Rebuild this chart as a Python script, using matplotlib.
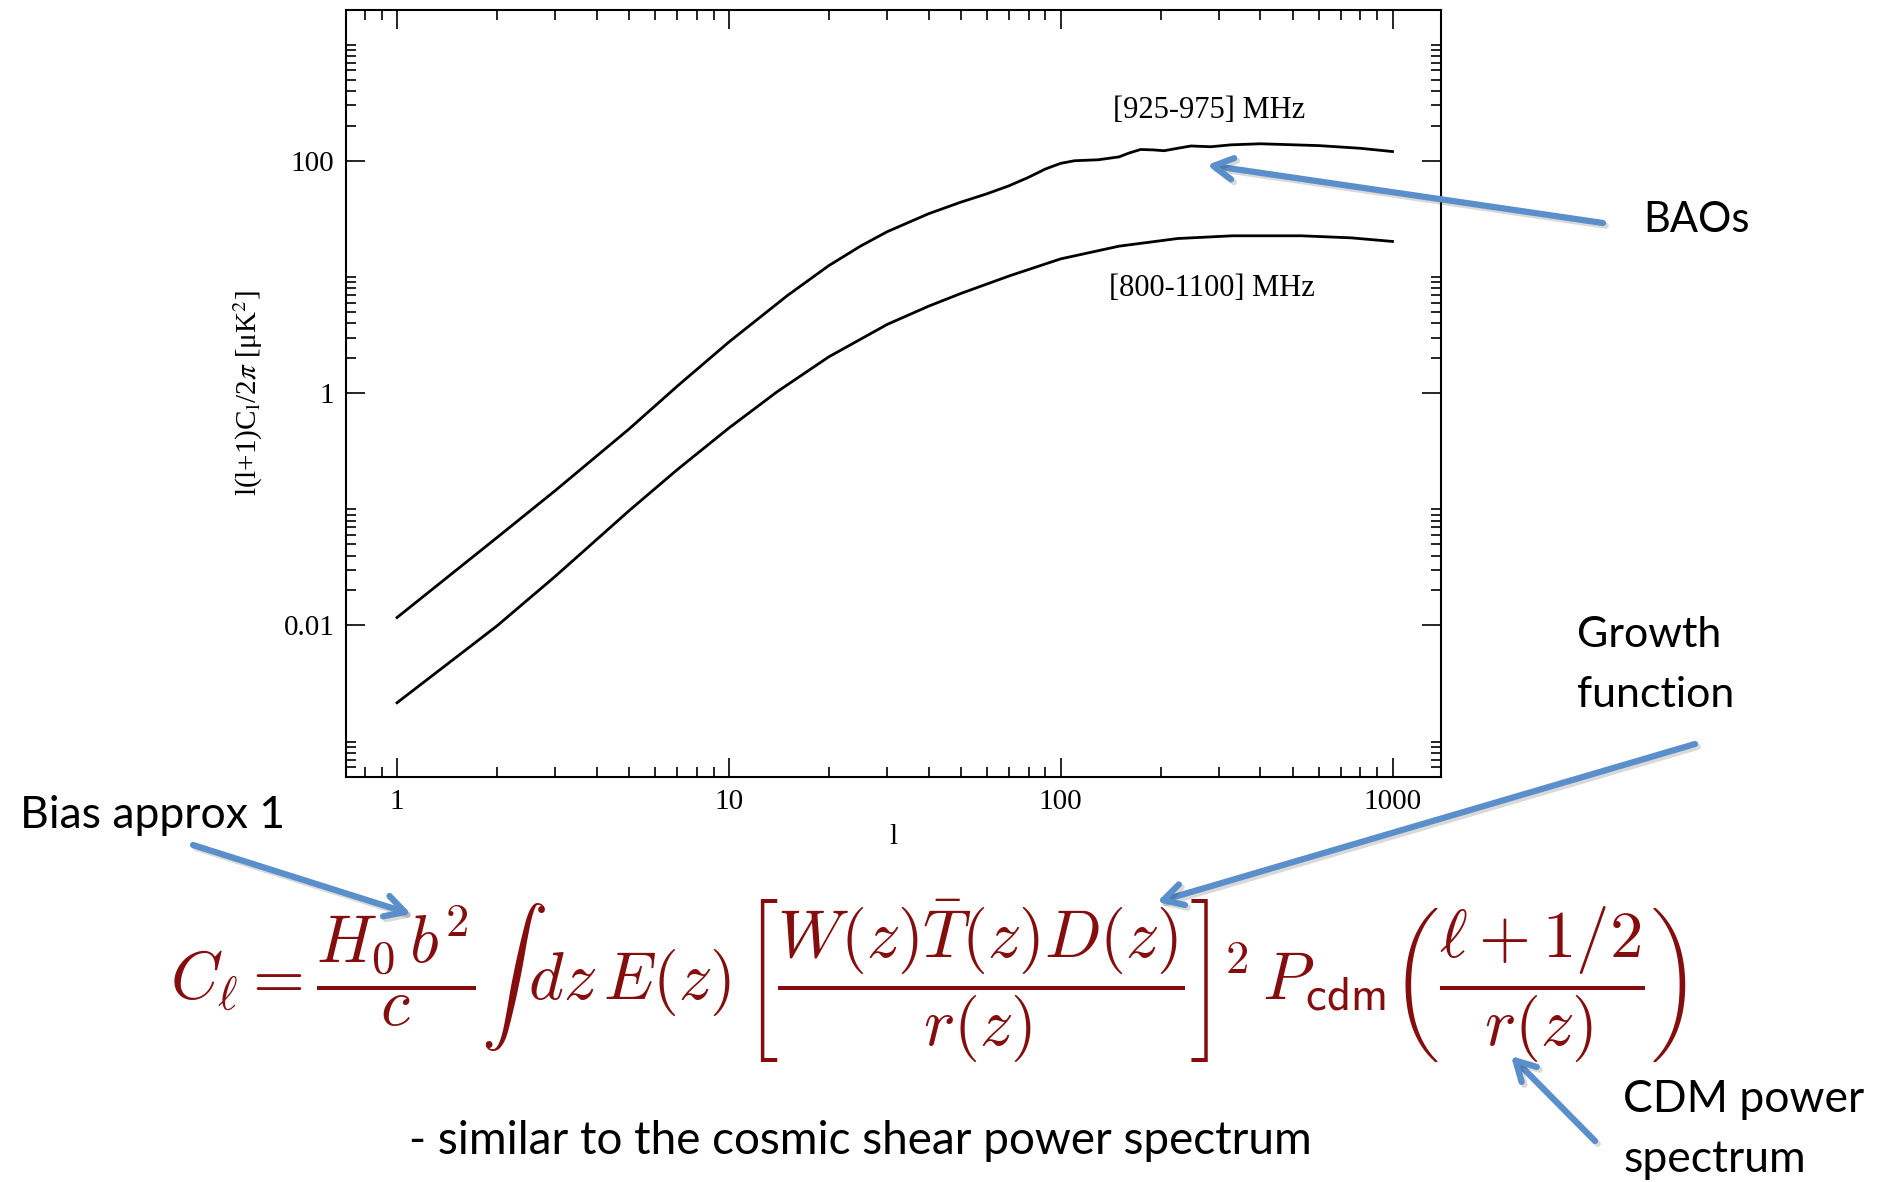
import numpy as np
import matplotlib
matplotlib.use("Agg")
import matplotlib.pyplot as plt
import matplotlib.patheffects as pe
from matplotlib.ticker import FixedLocator, NullFormatter

# ---- data ----
l_925 = [1, 2, 3, 5, 7, 10, 15, 20, 25, 30, 40, 50, 60, 70, 80, 90,
         100, 110, 130, 150, 160, 174, 190, 205, 225, 247, 265, 283, 300, 325,
         400, 600, 800, 1000]
cl_925 = [0.0117, 0.057, 0.145, 0.49, 1.15, 2.75, 6.9, 12.5, 18.5, 24.5, 35, 44, 52, 61, 72, 85,
          95, 100, 102, 108, 116, 125, 124, 122, 128, 134, 133, 132, 134, 137,
          140, 135, 128, 120]

l_800 = [1, 2, 3, 5, 7, 10, 14, 20, 30, 40, 50, 70,
         100, 150, 225, 330, 530, 750, 1000]
cl_800 = [0.00216, 0.0099, 0.0265, 0.097, 0.22, 0.50, 1.03, 2.05, 3.9, 5.6, 7.2, 10.2,
          14.3, 18.4, 21.4, 22.6, 22.6, 21.7, 20.2]

xticks = [1, 10, 100, 1000]
xticklabels = ["1", "10", "100", "1000"]
yticks = [0.01, 1, 100]
yticklabels = ["0.01", "1", "100"]

W, H = 1888, 1182
SERIF = "Liberation Serif"
SANS = "Lato"
BLUE = "#5b8fcb"
DARKRED = "#850d0d"

plt.rcParams["font.family"] = SERIF
plt.rcParams["mathtext.fontset"] = "stix"

fig = plt.figure(figsize=(W / 100, H / 100), dpi=100)
ax = fig.add_axes([345.6 / W, 1 - 776.6 / H, 1095.4 / W, 767 / H])

ax.plot(l_925, cl_925, color="black", lw=2)
ax.plot(l_800, cl_800, color="black", lw=2)

ax.set_xscale("log"); ax.set_yscale("log")
ax.set_xlim(0.7, 1400); ax.set_ylim(5e-4, 2e3)
ax.set_xticks(xticks, labels=xticklabels)
ax.set_yticks(yticks, labels=yticklabels)
ax.xaxis.set_minor_formatter(NullFormatter())
ax.yaxis.set_minor_locator(FixedLocator([m * 10.0 ** k for k in (-4, -2, 0, 2) for m in range(2, 11)]))
ax.yaxis.set_minor_formatter(NullFormatter())
ax.tick_params(which="both", direction="in", top=True, right=True, width=1.2, labelsize=21)
ax.tick_params(which="major", length=14)
ax.tick_params(which="minor", length=7)
ax.tick_params(axis="x", pad=9)
ax.tick_params(axis="y", pad=8)
for s in ax.spines.values():
    s.set_linewidth(1.5)

ax.set_xlabel("l", fontsize=21)
ax.xaxis.set_label_coords(0.5, -0.062)
ax.set_ylabel("l(l+1)C$_\\mathrm{l}$/2$\\pi$ [μK$^2$]", fontsize=21)
ax.yaxis.set_label_coords(-0.074, 0.5)

ax.text(281, 270, "[925-975] MHz", fontsize=22, ha="center", va="center")
ax.text(286, 7.9, "[800-1100] MHz", fontsize=22, ha="center", va="center")

# ---- slide annotations ----
def fx(x): return x / W
def fy(y): return 1 - y / H

fig.text(fx(1643), fy(220), "BAOs", fontsize=30, family=SANS, va="center")
fig.text(fx(1577), fy(635), "Growth", fontsize=31, family=SANS, va="center")
fig.text(fx(1577), fy(695), "function", fontsize=31, family=SANS, va="center")
fig.text(fx(20), fy(815), "Bias approx 1", fontsize=32, family=SANS, va="center")
fig.text(fx(1623), fy(1100), "CDM power", fontsize=32, family=SANS, va="center")
fig.text(fx(1623), fy(1160), "spectrum", fontsize=32, family=SANS, va="center")
fig.text(fx(860), fy(1141), "- similar to the cosmic shear power spectrum",
         fontsize=33, family=SANS, ha="center", va="center")

formula = (r"$C_\ell = \dfrac{H_\mathsf{0}\,b^\mathsf{2}}{c}\int\, dz\, E(z)\,"
           r"\left[\dfrac{W(z)\bar{T}(z)D(z)}{r(z)}\right]^\mathsf{2}\,"
           r"P_\mathsf{cdm}\left(\dfrac{\ell + \mathsf{1/2}}{r(z)}\right)$")
fig.text(fx(929), fy(980), formula, fontsize=48, color=DARKRED,
         ha="center", va="center", math_fontfamily="cm")

arrows = [((1603, 223), (1207, 165)),
          ((1695, 744), (1157, 902)),
          ((193, 845), (411, 914)),
          ((1595, 1141), (1511, 1056))]
for (x0, y0), (x1, y1) in arrows:
    ax.annotate("", xy=(fx(x1), fy(y1)), xycoords="figure fraction",
                xytext=(fx(x0), fy(y0)), textcoords="figure fraction",
                annotation_clip=False,
                arrowprops=dict(arrowstyle="->,head_length=1.0,head_width=0.55",
                                mutation_scale=14, lw=4.5, color=BLUE,
                                shrinkA=0, shrinkB=0,
                                path_effects=[pe.SimpleLineShadow(offset=(2, -2), alpha=0.15),
                                              pe.Normal()]))

fig.savefig("out.png", dpi=100)
